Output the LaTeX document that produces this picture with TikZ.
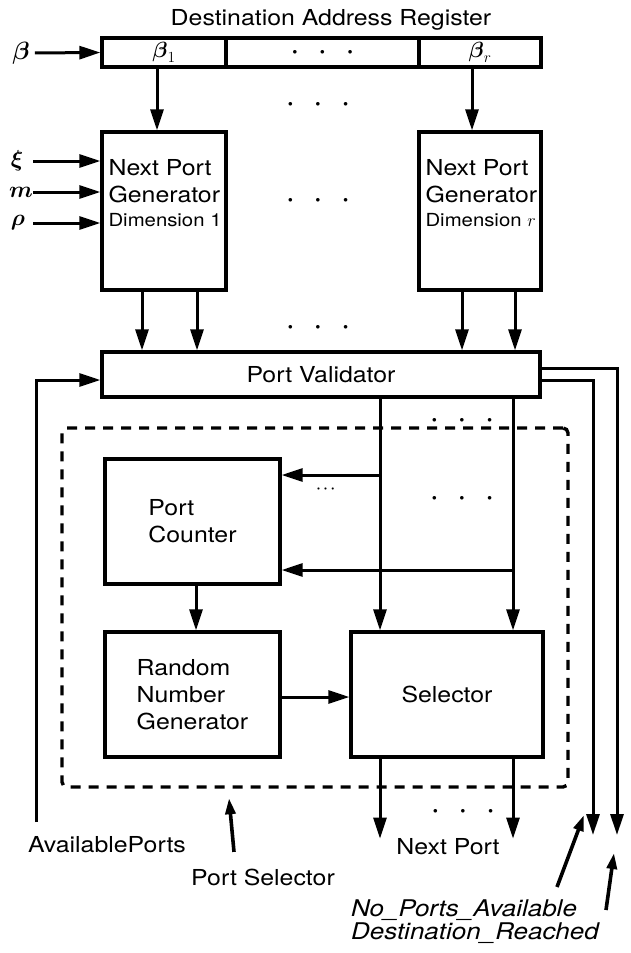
\RequirePackage{fix-cm}
\documentclass[tikz,border=0pt]{standalone}
\usepackage{amsmath}
\usepackage{fontspec}
\setmainfont{TeX Gyre Heros}[FakeStretch=1.13]
\usepackage{tikz}
\usetikzlibrary{arrows.meta}
\usetikzlibrary{positioning}
\usetikzlibrary{calc}
\newcommand{\onedot}{{\fontsize{9}{9}\selectfont$\bullet$}}
\newcommand{\threedots}{\onedot\hspace{23pt}\onedot\hspace{23pt}\onedot}

\begin{document}
\begin{tikzpicture}[x=1pt, y=-1pt,
    box/.style={draw, line width=3.3pt, inner sep=0pt, font=\fontsize{22}{27}\selectfont},
    txt/.style={inner sep=0pt, font=\fontsize{22}{27}\selectfont},
    sym/.style={inner sep=0pt, font=\fontsize{23}{26}\selectfont},
    arr/.style={line width=3pt, -{Triangle[length=21pt,width=13pt]}},
    ptr/.style={line width=3.6pt, -{Triangle[length=16pt,width=10pt]}},
    dashbox/.style={draw, line width=3.4pt, dash pattern=on 10pt off 8pt, rounded corners=5pt}]
    \useasboundingbox (0,0) rectangle (630,953);
    % Destination address register
    \node[txt] (title) at (331,20) {Destination Address Register};
    \node[box, minimum width=124pt, minimum height=29pt] (cellA) at (164,52.5)   {$\boldsymbol{\beta}_1$};
    \node[box, minimum width=193pt, minimum height=29pt] (cellB) at (322.5,52.5) {\threedots};
    \node[box, minimum width=122pt, minimum height=29pt] (cellC) at (480,52.5)   {$\boldsymbol{\beta}_r$};
    \node[sym, font=\fontsize{25}{28}\selectfont] (betain) at (21,53) {$\boldsymbol{\beta}$};
    \draw[arr, shorten <=5pt] (betain.east) -- (cellA.west);
    \node[txt] (dotsA) at (318,104) {\threedots};
    % Next port generators
    \node[box, minimum width=124pt, minimum height=158pt] (npgA) at (164,211) {};
    \node[box, minimum width=122pt, minimum height=158pt] (npgC) at (480,211) {};
    \node[txt, align=left, anchor=north west] (npgAtxt) at ([xshift=8pt,yshift=-29pt]npgA.north west)
        {Next Port\\Generator\\[-3pt]{\fontsize{18}{22}\selectfont Dimension 1}};
    \node[txt, align=left, anchor=north west] (npgCtxt) at ([xshift=8pt,yshift=-29pt]npgC.north west)
        {Next Port\\Generator\\[-3pt]{\fontsize{18}{22}\selectfont Dimension $r$}};
    \node[txt] (dotsB) at (318,200) {\threedots};
    \draw[arr] ([xshift=-7pt]cellA.south) -- ([xshift=-7pt]npgA.north);
    \draw[arr] ([xshift=-8pt]cellC.south) -- ([xshift=-8pt]npgC.north);
    % Generator inputs
    \node[sym] (xiin)  at (17,161) {$\boldsymbol{\xi}$};
    \node[sym] (min)   at (21,192) {$\boldsymbol{m}$};
    \node[sym] (rhoin) at (18,223) {$\boldsymbol{\rho}$};
    \draw[arr] (xiin.east -| min.east)  -- (xiin.east -| npgA.west);
    \draw[arr] (min.east)               -- (min.east -| npgA.west);
    \draw[arr] (rhoin.east -| min.east) -- (rhoin.east -| npgA.west);
    % Port validator
    \node[box, minimum width=438pt, minimum height=45pt] (val) at (321,374.5) {Port Validator};
    \draw[arr] ([xshift=-22pt]npgA.south) -- ([xshift=-22pt]npgA.south |- val.north);
    \draw[arr] ([xshift=33pt]npgA.south)  -- ([xshift=33pt]npgA.south |- val.north);
    \draw[arr] ([xshift=-18pt]npgC.south) -- ([xshift=-18pt]npgC.south |- val.north);
    \draw[arr] ([xshift=35pt]npgC.south)  -- ([xshift=35pt]npgC.south |- val.north);
    \node[txt] (dotsC) at (318,327) {\threedots};
    % Port selector
    \node[dashbox, minimum width=506pt, minimum height=359pt] (psel) at (315,607.5) {};
    \node[box, minimum width=175pt, minimum height=125pt, align=left] (pc)  at (192.5,521.5) {Port\\Counter};
    \node[box, minimum width=175pt, minimum height=125pt, align=left] (rng) at (192.5,694.5) {Random\\Number\\Generator};
    \node[box, minimum width=192pt, minimum height=125pt] (sel) at (447,694.5) {Selector};
    \coordinate (tapL) at ([xshift=-67pt]sel.north |- val.south);
    \coordinate (tapR) at ([xshift=66pt]sel.north |- val.south);
    \draw[arr] (tapL) -- (tapL |- sel.north);
    \draw[arr] (tapR) -- (tapR |- sel.north);
    \coordinate (pcinA) at ([yshift=46.5pt]pc.east);
    \coordinate (pcinB) at ([yshift=-48.5pt]pc.east);
    \draw[arr] (pcinA -| tapL) -- (pcinA);
    \draw[arr] (pcinB -| tapR) -- (pcinB);
    \draw[arr] ([xshift=3.5pt]pc.south) -- ([xshift=3.5pt]rng.north);
    \draw[arr] ([yshift=-2.5pt]rng.east) -- ([yshift=-2.5pt]rng.east -| sel.west);
    \node[txt] (dotsD) at (462,420) {\threedots};
    \node[txt] (dotsE) at (462,498) {\threedots};
    \node[inner sep=0pt, font=\fontsize{14}{14}\selectfont] (dotsF) at (327,489) {$\boldsymbol{\cdots}$};
    % Outputs
    \node[txt] (nextport) at (448,847) {Next Port};
    \draw[arr] (sel.south -| tapL) -- (nextport.north -| tapL);
    \draw[arr] (sel.south -| tapR) -- (nextport.north -| tapR);
    \node[txt] (dotsG) at (463,811) {\threedots};
    \node[txt] (avail) at (107,845) {AvailablePorts};
    \coordinate (availfoot) at (36,822);
    \draw[arr] (availfoot) |- ([yshift=-5.5pt]val.west);
    \coordinate (nparrow) at (593,835);
    \coordinate (drarrow) at (617,835);
    \draw[arr] ([yshift=-5.5pt]val.east) -| (nparrow);
    \draw[arr] ([yshift=6.5pt]val.east) -| (drarrow);
    % Labels & pointers
    \node[txt] (pselname) at (263,877) {Port Selector};
    \draw[ptr] ([xshift=-29pt,yshift=16.5pt]pselname.north) -- ([xshift=-86pt,yshift=-9.5pt]psel.south);
    \node[txt, anchor=west, font=\fontsize{23}{27}\selectfont\itshape] (noports) at (351,910) {No\_Ports\_Available};
    \node[txt, anchor=west, font=\fontsize{23}{27}\selectfont\itshape] (destreached) at (351,933) {Destination\_Reached};
    \coordinate (npfoot) at (557,887);
    \coordinate (nptip) at (584,815);
    \coordinate (drfoot) at (606,910);
    \coordinate (drtip) at (614,853);
    \draw[ptr] (npfoot) -- (nptip);
    \draw[ptr] (drfoot) -- (drtip);
\end{tikzpicture}
\end{document}
